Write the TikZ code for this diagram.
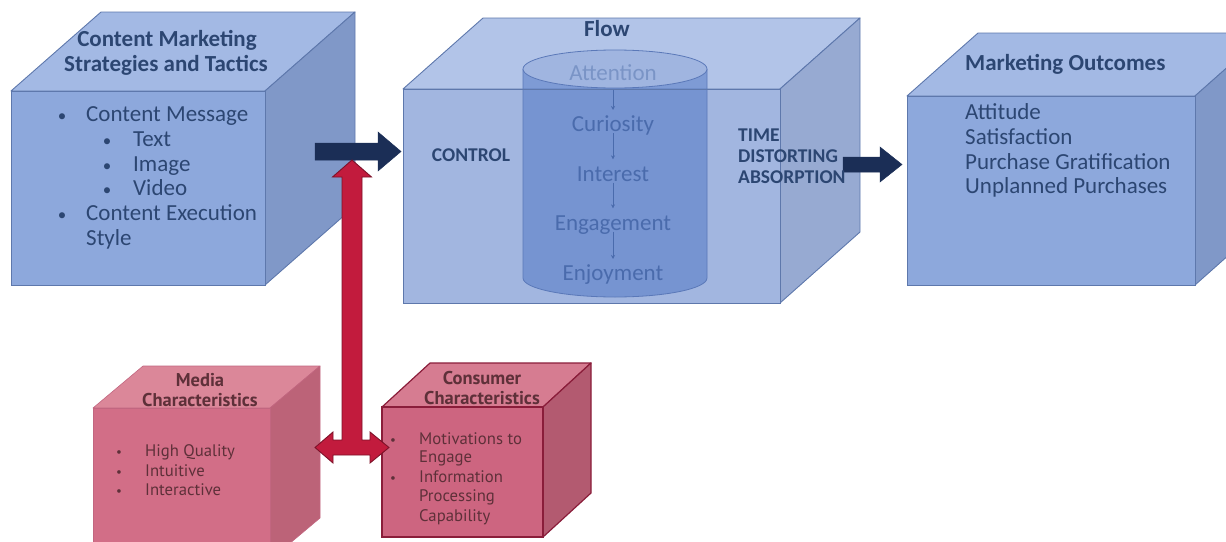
\documentclass[tikz,border=0pt]{standalone}
\usepackage{fontspec}
\setmainfont{Carlito}
\newfontfamily\pinkfont{PT Sans}
\usetikzlibrary{calc,arrows.meta}

% face colours
\definecolor{bfront}{HTML}{8DA8DC}
\definecolor{btop}{HTML}{A3B9E4}
\definecolor{bside}{HTML}{8098C8}
\definecolor{bline}{HTML}{5E78AC}
\definecolor{mfront}{HTML}{A2B6E0}
\definecolor{mtop}{HTML}{B2C4E8}
\definecolor{mside}{HTML}{97AAD2}
\definecolor{cylfill}{HTML}{4F76C4}
\definecolor{cyltop}{HTML}{A0B5E0}
\definecolor{cylline}{HTML}{5A78B8}
\definecolor{btext}{HTML}{2C4672}
\definecolor{ctext}{HTML}{4A6BAC}
\definecolor{ctextlight}{HTML}{7A94C6}
\definecolor{navy}{HTML}{1B2E56}
\definecolor{redfill}{HTML}{C21B3D}
\definecolor{redline}{HTML}{7D1229}
\definecolor{pfront}{HTML}{D26E87}
\definecolor{ptop}{HTML}{DB8799}
\definecolor{pside}{HTML}{BC6378}
\definecolor{pline}{HTML}{C26680}
\definecolor{cfront}{HTML}{CD6580}
\definecolor{ctop}{HTML}{D67C91}
\definecolor{cside}{HTML}{B35A70}
\definecolor{cline}{HTML}{8A1D3A}
\definecolor{ptext}{HTML}{5E3039}

% a box seen from front-right: front rectangle (x0,y0)-(x1,y1), depth (dx,dy)
\newcommand\drawcube[7]{%
  \path[#7 top]  (#1,#2) -- (#1+#5,#2-#6) -- (#3+#5,#2-#6) -- (#3,#2) -- cycle;
  \path[#7 side] (#3,#2) -- (#3+#5,#2-#6) -- (#3+#5,#4-#6) -- (#3,#4) -- cycle;
  \path[#7 front] (#1,#2) rectangle (#3,#4);
}

\tikzset{
  blue top/.style={fill=btop,draw=bline,line width=0.9pt,line join=round},
  blue side/.style={fill=bside,draw=bline,line width=0.9pt,line join=round},
  blue front/.style={fill=bfront,draw=bline,line width=0.9pt},
  mid top/.style={fill=mtop,draw=bline,line width=0.9pt,line join=round},
  mid side/.style={fill=mside,draw=bline,line width=0.9pt,line join=round},
  mid front/.style={fill=mfront,draw=bline,line width=0.9pt},
  media top/.style={fill=ptop,draw=pline,line width=0.6pt,line join=round},
  media side/.style={fill=pside,draw=pline,line width=0.6pt,line join=round},
  media front/.style={fill=pfront,draw=pline,line width=0.6pt},
  cons top/.style={fill=ctop,draw=cline,line width=1.2pt,line join=round},
  cons side/.style={fill=cside,draw=cline,line width=1.2pt,line join=round},
  cons front/.style={fill=cfront,draw=cline,line width=1.2pt},
  btxt/.style={text=btext,inner sep=0pt,anchor=base west,font=\fontsize{23}{24}\selectfont},
  bhead/.style={btxt,anchor=base,font=\fontsize{23}{24}\selectfont\bfseries},
  bcap/.style={btxt,font=\fontsize{19.5}{20}\selectfont\bfseries},
  bdot/.style={btxt,anchor=base,font=\fontsize{17}{20}\selectfont},
  cyl/.style={text=ctext,inner sep=0pt,anchor=base,text height=15pt,text depth=0pt,
    font=\fontsize{23}{24}\selectfont},
  flowarrow/.style={draw=ctext,line width=0.6pt,-{Stealth[length=4pt,width=4pt]},
    shorten >=6.5pt},
  ptxt/.style={text=ptext,inner sep=0pt,anchor=base west,font=\pinkfont\fontsize{16.7}{18}\selectfont},
  phead/.style={ptxt,anchor=base,font=\pinkfont\fontsize{18.5}{20}\selectfont\bfseries},
  pdot/.style={ptxt,anchor=base,font=\pinkfont\fontsize{13}{16}\selectfont},
  navyarrow/.style={fill=navy,draw=navy,line width=0.5pt,line join=miter},
  redarrow/.style={fill=redfill,draw=redline,line width=0.9pt,line join=miter},
}

\begin{document}
\begin{tikzpicture}[x=1pt,y=-1pt]
\useasboundingbox (0,0) rectangle (1226,541);
\clip (0,0) rectangle (1226,541);

% strategies cube
\drawcube{11}{91}{265}{285}{90}{79}{blue}
% flow cube with the cylinder seen through its front
\drawcube{403}{89}{780}{303}{80}{71}{mid}
\path[fill=cylfill,fill opacity=0.52,draw=cylline,line width=0.8pt]
  (523,69) -- (523,278) arc[start angle=180,end angle=360,x radius=92pt,y radius=19pt] -- (707,69);
\path[fill=cyltop,draw=cylline,line width=0.8pt]
  (615,69) ellipse[x radius=92pt,y radius=19pt];
\draw[bline,line width=0.9pt] (403,89) rectangle (780,303);
% outcomes cube
\drawcube{907}{96}{1195}{285}{71}{63}{blue}
% characteristics cubes
\drawcube{93}{408}{270}{560}{50}{42}{media}
\drawcube{382}{407}{543}{537}{48}{44}{cons}

% block arrows
\coordinate (n1s) at (315,151.5);
\coordinate (n1e) at (401,151.5);
\path[navyarrow] ($(n1s)+(0,-8.5)$) -- ($(n1e)+(-23,-8.5)$) -- ($(n1e)+(-23,-19.5)$) -- (n1e)
  -- ($(n1e)+(-23,19.5)$) -- ($(n1e)+(-23,8.5)$) -- ($(n1s)+(0,8.5)$) -- cycle;
\coordinate (n2s) at (843,164.5);
\coordinate (n2e) at (902,164.5);
\path[navyarrow] ($(n2s)+(0,-7.5)$) -- ($(n2e)+(-22,-7.5)$) -- ($(n2e)+(-22,-17.5)$) -- (n2e)
  -- ($(n2e)+(-22,17.5)$) -- ($(n2e)+(-22,7.5)$) -- ($(n2s)+(0,7.5)$) -- cycle;

\coordinate (rtop) at (352,160);
\coordinate (rjoin) at (352,447.5);
\coordinate (rleft) at (315,447.5);
\coordinate (rright) at (389,447.5);
\path[redarrow] (rtop) -- ($(rtop)+(19.5,17)$) -- ($(rtop)+(10,17)$) -- ($(rjoin)+(10,-7.5)$)
  -- ($(rright)+(-19,-7.5)$) -- ($(rright)+(-19,-15.5)$) -- (rright) -- ($(rright)+(-19,15.5)$)
  -- ($(rright)+(-19,7.5)$) -- ($(rleft)+(18,7.5)$) -- ($(rleft)+(18,15.5)$) -- (rleft)
  -- ($(rleft)+(18,-15.5)$) -- ($(rleft)+(18,-7.5)$) -- ($(rjoin)+(-10,-7.5)$)
  -- ($(rtop)+(-10,17)$) -- ($(rtop)+(-19.5,17)$) -- cycle;

% strategies text
\node[bhead] (s1) at (167,46.7) {Content Marketing};
\node[bhead] (s2) at (166,71.7) {Strategies and Tactics};
\node[bdot] (sb1) at (62,121.5) {•};
\node[btxt] (s3) at (86,121.5) {Content Message};
\node[bdot] (sb2) at (107,146.7) {•};
\node[btxt] (s4) at (133,146.7) {Text};
\node[bdot] (sb3) at (107,171.5) {•};
\node[btxt] (s5) at (133,171.5) {Image};
\node[bdot] (sb4) at (107,195) {•};
\node[btxt] (s6) at (133,195) {Video};
\node[bdot] (sb5) at (62,220) {•};
\node[btxt] (s7) at (86,220) {Content Execution};
\node[btxt] (s8) at (86,245) {Style};

% flow text
\node[bhead] (f0) at (607,36) {Flow};
\node[bcap,anchor=base] (fc) at (471,161.7) {CONTROL};
\node[bcap] (ft1) at (738,141.7) {TIME};
\node[bcap] (ft2) at (738,162) {DISTORTING};
\node[bcap] (ft3) at (738,183.3) {ABSORPTION};
\node[cyl,text=ctextlight] (cy1) at (613,80.7) {Attention};
\node[cyl] (cy2) at (613,131.7) {Curiosity};
\node[cyl] (cy3) at (613,181) {Interest};
\node[cyl] (cy4) at (613,230) {Engagement};
\node[cyl] (cy5) at (613,280.7) {Enjoyment};
\draw[flowarrow,shorten <=9pt] (cy1.south) -- (cy2.north);
\draw[flowarrow,shorten <=1.5pt] (cy2.south) -- (cy3.north);
\draw[flowarrow,shorten <=1.5pt] (cy3.south) -- (cy4.north);
\draw[flowarrow,shorten <=1.5pt] (cy4.south) -- (cy5.north);

% outcomes text
\node[btxt,font=\fontsize{23}{24}\selectfont\bfseries] (o0) at (965,70) {Marketing Outcomes};
\node[btxt] (o1) at (965,119.3) {Attitude};
\node[btxt] (o2) at (965,144) {Satisfaction};
\node[btxt] (o3) at (965,169.3) {Purchase Gratification};
\node[btxt] (o4) at (965,193.3) {Unplanned Purchases};

% media text
\node[phead] (m0) at (200,386) {Media};
\node[phead] (m1) at (200,406.7) {Characteristics};
\node[pdot] (mb1) at (119,456.7) {•};
\node[ptxt] (m2) at (145,456.7) {High Quality};
\node[pdot] (mb2) at (119,476) {•};
\node[ptxt] (m3) at (145,476) {Intuitive};
\node[pdot] (mb3) at (119,495) {•};
\node[ptxt] (m4) at (145,495) {Interactive};

% consumer text
\node[phead] (c0) at (482,384) {Consumer};
\node[phead] (c1) at (482,404) {Characteristics};
\node[pdot] (cb1) at (393,444) {•};
\node[ptxt] (c2) at (419,444) {Motivations to};
\node[ptxt] (c3) at (419,462.7) {Engage};
\node[pdot] (cb2) at (393,482.7) {•};
\node[ptxt] (c4) at (419,482.7) {Information};
\node[ptxt] (c5) at (419,501.7) {Processing};
\node[ptxt] (c6) at (419,521.7) {Capability};
\end{tikzpicture}
\end{document}
